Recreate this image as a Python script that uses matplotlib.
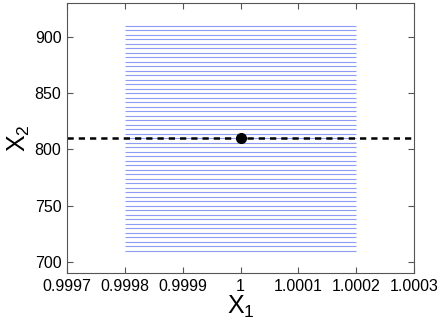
import matplotlib
matplotlib.use('Agg')
import matplotlib.pyplot as plt

# horizontal grid of constant-X2 segments
x_start = 0.9998
x_end = 1.0002
y_levels = [710, 714, 718, 722, 726, 730, 734, 738, 742, 746,
            750, 754, 758, 762, 766, 770, 774, 778, 782, 786,
            790, 794, 798, 802, 806, 810, 814, 818, 822, 826,
            830, 834, 838, 842, 846, 850, 854, 858, 862, 866,
            870, 874, 878, 882, 886, 890, 894, 898, 902, 906,
            910]

# reference point and dashed level
pt_x = 1.0
pt_y = 810

xticks = [0.9997, 0.9998, 0.9999, 1.0, 1.0001, 1.0002, 1.0003]
xticklabels = ['0.9997', '0.9998', '0.9999', '1', '1.0001', '1.0002', '1.0003']
yticks = [700, 750, 800, 850, 900]

plt.rcParams['font.family'] = ['Liberation Sans', 'DejaVu Sans']
plt.rcParams['mathtext.fontset'] = 'custom'
plt.rcParams['mathtext.rm'] = 'Liberation Sans'
plt.rcParams['mathtext.it'] = 'Liberation Sans'

fig = plt.figure(figsize=(4.41, 3.21), dpi=100)
ax = fig.add_axes([0.152, 0.1495, 0.787, 0.841])

ax.hlines(y_levels, x_start, x_end, colors='#8f9cf5', linewidth=0.8)
ax.axhline(pt_y, color='black', linestyle=(0, (2.5, 2)), linewidth=1.8)
ax.plot([pt_x], [pt_y], 'o', color='black', markersize=7)

ax.set_xlim(0.9997, 1.0003)
ax.set_ylim(690, 930)
ax.set_xticks(xticks)
ax.set_xticklabels(xticklabels)
ax.set_yticks(yticks)
ax.tick_params(direction='in', top=True, right=True, labelsize=11.5,
               color='#555555', length=4, pad=4)
for s in ax.spines.values():
    s.set_color('#555555')
    s.set_linewidth(0.8)

ax.set_xlabel(r'$\mathrm{X}_\mathrm{1}$', fontsize=18, labelpad=0)
ax.set_ylabel(r'$\mathrm{X}_\mathrm{2}$', fontsize=18, labelpad=2)

fig.savefig('out.png', dpi=100)
